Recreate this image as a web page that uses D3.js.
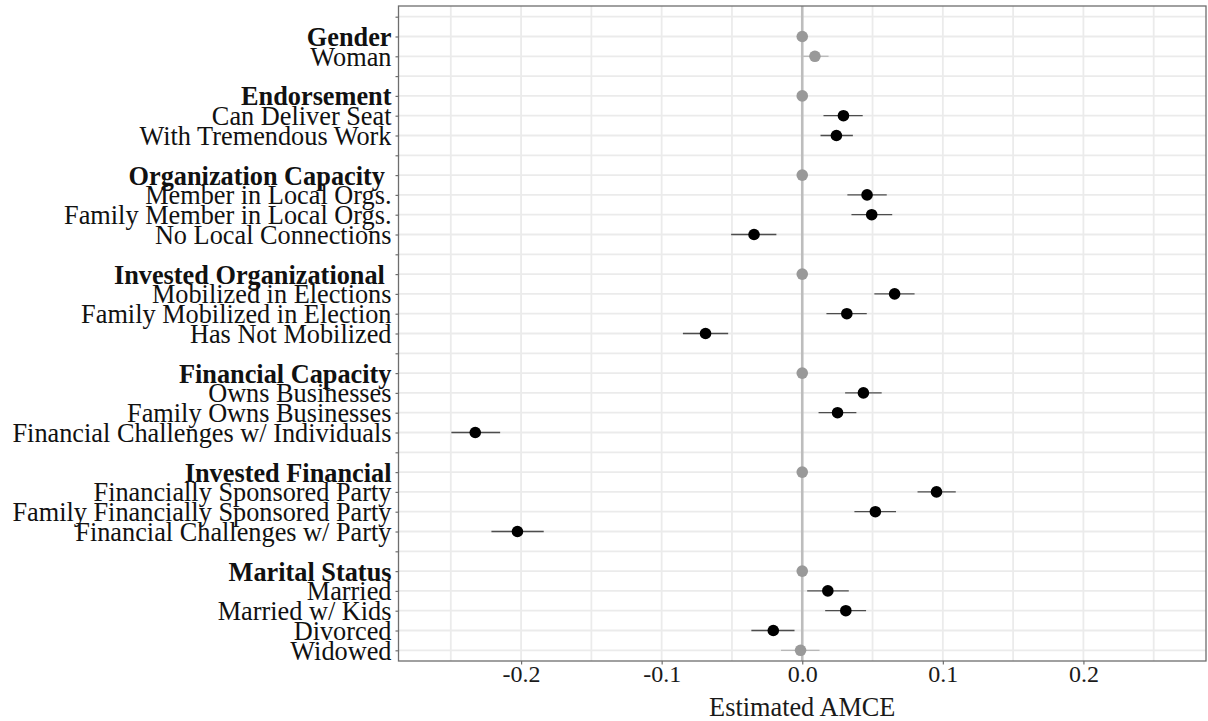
<!DOCTYPE html>
<html>
<head>
<meta charset="utf-8">
<script src="https://cdn.jsdelivr.net/npm/d3@7"></script>
<style>
  html, body { margin: 0; padding: 0; background: #fff; }
  svg { display: block; }
  text { font-family: "Liberation Serif", "Times New Roman", serif; white-space: pre; }
</style>
</head>
<body>
<svg id="chart" width="1208" height="721"></svg>
<script>
// Row labels from top to bottom ("" = spacer row between attribute blocks)
const rowLabels = [
  "",
  "Gender", "Woman",
  "",
  "Endorsement", "Can Deliver Seat", "With Tremendous Work",
  "",
  "Organization Capacity ", "Member in Local Orgs.", "Family Member in Local Orgs.", "No Local Connections",
  "",
  "Invested Organizational ", "Mobilized in Elections", "Family Mobilized in Election", "Has Not Mobilized",
  "",
  "Financial Capacity", "Owns Businesses", "Family Owns Businesses", "Financial Challenges w/ Individuals",
  "",
  "Invested Financial", "Financially Sponsored Party", "Family Financially Sponsored Party", "Financial Challenges w/ Party",
  "",
  "Marital Status", "Married", "Married w/ Kids", "Divorced", "Widowed"
];

// Attribute names (bold); their rows carry the baseline level at 0
const attributeHeaders = [
  "Gender", "Endorsement", "Organization Capacity ", "Invested Organizational ",
  "Financial Capacity", "Invested Financial", "Marital Status"
];

// Estimated AMCE per row (null = no estimate)
const estimate = [
  null,
  0, 0.009,
  null,
  0, 0.0293, 0.0243,
  null,
  0, 0.0461, 0.0494, -0.0343,
  null,
  0, 0.0657, 0.0317, -0.0688,
  null,
  0, 0.0435, 0.0251, -0.2326,
  null,
  0, 0.0955, 0.0520, -0.2026,
  null,
  0, 0.0182, 0.0310, -0.0206, -0.0012
];

// 95% confidence bounds
const lower = [
  null,
  null, 0.0007,
  null,
  null, 0.0151, 0.0130,
  null,
  null, 0.0321, 0.0350, -0.0506,
  null,
  null, 0.0513, 0.0172, -0.0849,
  null,
  null, 0.0305, 0.0116, -0.2496,
  null,
  null, 0.0820, 0.0371, -0.2211,
  null,
  null, 0.0035, 0.0163, -0.0362, -0.0151
];
const upper = [
  null,
  null, 0.0187,
  null,
  null, 0.0430, 0.0360,
  null,
  null, 0.0601, 0.0640, -0.0184,
  null,
  null, 0.0799, 0.0459, -0.0527,
  null,
  null, 0.0565, 0.0385, -0.2149,
  null,
  null, 0.1092, 0.0667, -0.1839,
  null,
  null, 0.0331, 0.0454, -0.0055, 0.0123
];

// Whether the estimate is drawn as significant (black) or not (grey)
const significant = [
  false,
  false, false,
  false,
  false, true, true,
  false,
  false, true, true, true,
  false,
  false, true, true, true,
  false,
  false, true, true, true,
  false,
  false, true, true, true,
  false,
  false, true, true, true, false
];

const xTicks = [-0.2, -0.1, 0.0, 0.1, 0.2];
const xTickLabels = ["-0.2", "-0.1", "0.0", "0.1", "0.2"];
const xMinorTicks = [-0.25, -0.15, -0.05, 0.05, 0.15, 0.25];
const xTitle = "Estimated AMCE";

// ---- layout ----
const panel = { left: 398.5, right: 1206, top: 6, bottom: 661 };
const svg = d3.select("#chart");

const x = d3.scaleLinear().domain([-0.2872, 0.2872]).range([panel.left, panel.right]);
const y = d3.scalePoint().domain(d3.range(rowLabels.length)).range([panel.top, panel.bottom]).padding(0.54);

const rows = rowLabels.map((label, i) => ({
  i, label,
  header: attributeHeaders.includes(label),
  est: estimate[i], lo: lower[i], hi: upper[i], sig: significant[i]
}));

// panel background
svg.append("rect")
  .attr("x", panel.left).attr("y", panel.top)
  .attr("width", panel.right - panel.left).attr("height", panel.bottom - panel.top)
  .attr("fill", "#fff");

// grid lines
const grid = svg.append("g").attr("stroke", "#ebebeb").attr("stroke-width", 1.8);
grid.selectAll("line.minor").data(xMinorTicks).join("line")
  .attr("x1", d => x(d)).attr("x2", d => x(d))
  .attr("y1", panel.top).attr("y2", panel.bottom);
grid.selectAll("line.major").data(xTicks).join("line")
  .attr("x1", d => x(d)).attr("x2", d => x(d))
  .attr("y1", panel.top).attr("y2", panel.bottom);
grid.selectAll("line.row").data(rows).join("line")
  .attr("x1", panel.left).attr("x2", panel.right)
  .attr("y1", d => y(d.i)).attr("y2", d => y(d.i));

// reference line at zero
svg.append("line")
  .attr("x1", x(0)).attr("x2", x(0))
  .attr("y1", panel.top).attr("y2", panel.bottom)
  .attr("stroke", "#bdbdbd").attr("stroke-width", 2.6);

// confidence intervals
svg.append("g").selectAll("line")
  .data(rows.filter(d => d.lo !== null))
  .join("line")
  .attr("x1", d => x(d.lo)).attr("x2", d => x(d.hi))
  .attr("y1", d => y(d.i)).attr("y2", d => y(d.i))
  .attr("stroke", d => d.sig ? "#4d4d4d" : "#b8b8b8")
  .attr("stroke-width", 1.3);

// point estimates
svg.append("g").selectAll("circle")
  .data(rows.filter(d => d.est !== null))
  .join("circle")
  .attr("cx", d => x(d.est)).attr("cy", d => y(d.i))
  .attr("r", 5.8)
  .attr("fill", d => d.sig ? "#000" : "#999");

// panel border
svg.append("rect")
  .attr("x", panel.left).attr("y", panel.top)
  .attr("width", panel.right - panel.left).attr("height", panel.bottom - panel.top)
  .attr("fill", "none").attr("stroke", "#6e6e6e").attr("stroke-width", 1.3);

// x axis
const xAxis = d3.axisBottom(x).tickValues(xTicks)
  .tickFormat((d, i) => xTickLabels[i]).tickSize(3.5).tickPadding(4);
const gx = svg.append("g").attr("transform", `translate(0,${panel.bottom})`).call(xAxis);
gx.select(".domain").remove();
gx.selectAll(".tick line").attr("stroke", "#6e6e6e").attr("stroke-width", 1.2);
gx.selectAll(".tick text")
  .attr("font-family", "Liberation Serif, serif")
  .attr("font-size", 24)
  .attr("fill", "#1a1a1a")
  .attr("dy", null).attr("y", 21);

// y axis labels
const yAxis = d3.axisLeft(y).tickFormat(i => rowLabels[i]).tickSize(3).tickPadding(4);
const gy = svg.append("g").attr("transform", `translate(${panel.left},0)`).call(yAxis);
gy.select(".domain").remove();
gy.selectAll(".tick line").attr("stroke", "#6e6e6e").attr("stroke-width", 1.2);
gy.selectAll(".tick text")
  .attr("font-family", "Liberation Serif, serif")
  .attr("font-size", 26.3)
  .attr("fill", "#111")
  .attr("font-weight", i => attributeHeaders.includes(rowLabels[i]) ? "bold" : "normal")
  .attr("dy", "0.34em");

// x title
svg.append("text")
  .attr("x", (panel.left + panel.right) / 2)
  .attr("y", 716)
  .attr("text-anchor", "middle")
  .attr("font-size", 26.3)
  .attr("fill", "#1a1a1a")
  .text(xTitle);
</script>
</body>
</html>
